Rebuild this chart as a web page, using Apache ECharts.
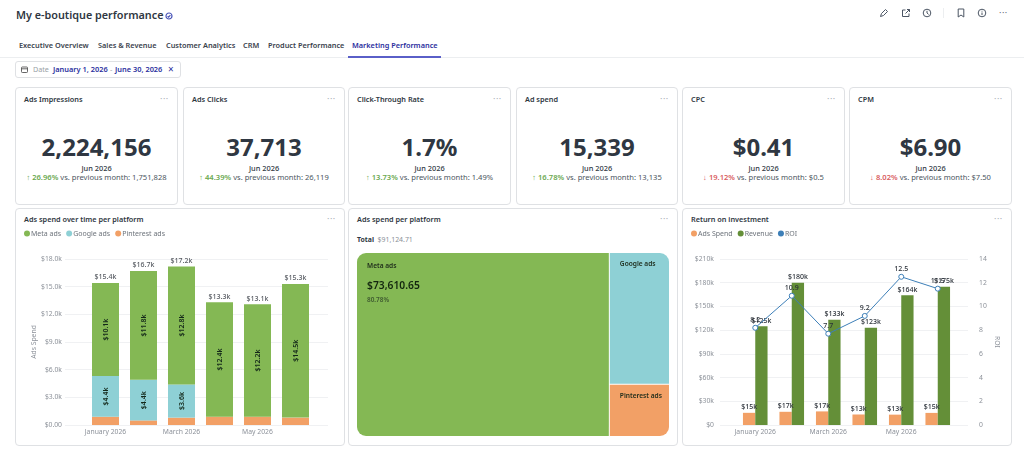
<!DOCTYPE html>
<html><head><meta charset="utf-8">
<script src="https://cdn.jsdelivr.net/npm/echarts@6/dist/echarts.min.js"></script>
<style>
html,body{margin:0;padding:0;background:#fff;width:1024px;height:465px;overflow:hidden;font-family:"Noto Sans",sans-serif;color:#2f3742}
.abs{position:absolute;white-space:nowrap}
.card{position:absolute;box-sizing:border-box;background:#fff;border:1px solid #dfe1e4;border-radius:4px}
#chartBox{position:absolute;left:0;top:0;width:1024px;height:465px}
.ct{font-size:7.3px;font-weight:600;color:#2f3742}
.dots{color:#aeb2b8;font-size:9px;letter-spacing:.5px}
</style></head><body>
<div id="uiBox"></div><div id="chartBox"></div>
<script>
const months=['January 2026','February 2026','March 2026','April 2026','May 2026','June 2026'];
const metaSpend=[10.1,11.8,12.8,12.4,12.2,14.5];
const googleSpend=[4.4,4.4,3.6,0,0,0];
const pinterestSpend=[0.9,0.5,0.8,0.9,0.9,0.8];
const totalSpend=[15.4,16.7,17.2,13.3,13.1,15.3];
const adsSpend=[15.4,16.7,17.2,13.3,13.1,15.3];
const revenue=[125,180,133,123,164,175];
const roi=[8.2,10.9,7.7,9.2,12.5,11.5];
const platformNames=['Meta ads','Google ads','Pinterest ads'];
const platformTotals=[73610.65,12530,4984.06];
const tabs=['Executive Overview','Sales & Revenue','Customer Analytics','CRM','Product Performance','Marketing Performance'];
const tabX=[19,98,166,243,268,352];
const kpiTitles=['Ads Impressions','Ads Clicks','Click-Through Rate','Ad spend','CPC','CPM'];
const kpiValues=['2,224,156','37,713','1.7%','15,339','$0.41','$6.90'];
const kpiDeltas=['26.96%','44.39%','13.73%','16.78%','19.12%','8.02%'];
const kpiPrev=['1,751,828','26,119','1.49%','13,135','$0.5','$7.50'];
const kpiUp=[true,true,true,true,false,false];
const kpiBoxes=[[15,163],[183,162],[348,163],[516,162],[682,163],[849,163]];

const uiEl=document.getElementById('uiBox');
function add(html){uiEl.insertAdjacentHTML('beforeend',html);}
function icon(x,y,inner){add(`<svg class="abs" style="left:${x}px;top:${y}px" width="10" height="10" viewBox="0 0 10 10" fill="none" stroke="#4b5563" stroke-width="1">${inner}</svg>`);}
add(`<div class="abs" style="left:16px;top:6px;font-size:10.8px;font-weight:600;line-height:18px;color:#2f3742">My e-boutique performance</div>`);
add(`<svg class="abs" style="left:165px;top:12px" width="8" height="8" viewBox="0 0 8 8" fill="none" stroke="#4a55b8" stroke-width="1.2"><circle cx="4" cy="4" r="3"/><path d="M2.6 4.1l1 1 1.8-2"/></svg>`);
tabs.forEach((t,i)=>add(`<div class="abs" style="left:${tabX[i]}px;top:39px;font-size:7.35px;font-weight:600;line-height:12px;color:${i==5?'#2b2f9e':'#3a424d'}">${t.replace('&','&amp;')}</div>`));
add(`<div class="abs" style="left:0;top:57px;width:1024px;height:1px;background:#eceef0"></div>`);
add(`<div class="abs" style="left:348px;top:56px;width:93px;height:2px;background:#5a5fc8"></div>`);
add(`<div class="card" style="left:15px;top:61px;width:166px;height:17px;border-radius:3px"></div>`);
add(`<svg class="abs" style="left:21px;top:66px" width="7" height="7" viewBox="0 0 7 7" fill="none" stroke="#555" stroke-width=".9"><rect x=".5" y="1" width="6" height="5.5" rx=".8"/><path d="M.5 2.8h6"/></svg>`);
add(`<div class="abs" style="left:33px;top:63px;font-size:7.2px;line-height:13px;color:#9a9fa6">Date</div>`);
add(`<div class="abs" style="left:53px;top:63px;font-size:7.4px;font-weight:600;line-height:13px;color:#2b2f9e">January 1, 2026</div>`);
add(`<div class="abs" style="left:110px;top:63px;font-size:7.4px;line-height:13px;color:#9a9fa6">-</div>`);
add(`<div class="abs" style="left:115px;top:63px;font-size:7.4px;font-weight:600;line-height:13px;color:#2b2f9e">June 30, 2026</div>`);
add(`<div class="abs" style="left:168px;top:62px;font-size:10px;line-height:14px;color:#2b2f9e">×</div>`);
icon(879,8,'<path d="M1.5 8.5l1-3 4-4 2 2-4 4z"/>');
icon(901,8,'<path d="M8 5.5v3H1.5V2h3"/><path d="M4.5 5.5L8.5 1.5M6 1.5h2.5V4"/>');
icon(922,8,'<circle cx="5" cy="5" r="3.8"/><path d="M5 2.8V5l1.6 1.4"/>');
add(`<div class="abs" style="left:943px;top:8px;width:1px;height:10px;background:#eceef0"></div>`);
icon(956,8,'<path d="M2.2 1h5.6v8L5 7 2.2 9z"/>');
icon(977,8,'<circle cx="5" cy="5" r="3.8"/><path d="M5 4.5v2.6M5 2.8v.8"/>');
add(`<div class="abs dots" style="left:999px;top:6px;color:#6b7280">···</div>`);
kpiTitles.forEach((t,i)=>{
 const [x,w]=kpiBoxes[i];
 add(`<div class="card" style="left:${x}px;top:87px;width:${w}px;height:118px"></div>`);
 add(`<div class="abs ct" style="left:${x+9}px;top:93px;line-height:12px">${t}</div>`);
 add(`<div class="abs dots" style="left:${x+w-18}px;top:93px;line-height:12px">···</div>`);
 add(`<div class="abs" style="left:${x}px;width:${w}px;top:130px;text-align:center;font-size:24px;font-weight:700;line-height:34px;color:#2f3742">${kpiValues[i]}</div>`);
 add(`<div class="abs" style="left:${x}px;width:${w}px;top:162px;text-align:center;font-size:7.4px;font-weight:500;line-height:12px;color:#2f3742">Jun 2026</div>`);
 const c=kpiUp[i]?'#6aa84f':'#d9605f';
 add(`<div class="abs" style="left:${x}px;width:${w}px;top:171px;text-align:center;font-size:7.6px;line-height:12px;color:#4b5560"><span style="color:${c}">${kpiUp[i]?'↑':'↓'} <b style="font-weight:600">${kpiDeltas[i]}</b></span> vs. previous month: ${kpiPrev[i]}</div>`);
});
[[15,330,'Ads spend over time per platform'],[348,330,'Ads spend per platform'],[682,330,'Return on investment']].forEach(([x,w,t])=>{
 add(`<div class="card" style="left:${x}px;top:208px;width:${w}px;height:238px"></div>`);
 add(`<div class="abs ct" style="left:${x+9}px;top:213px;line-height:12px">${t}</div>`);
 add(`<div class="abs dots" style="left:${x+w-18}px;top:213px;line-height:12px">···</div>`);
});
add(`<div class="abs" style="left:357px;top:234px;font-size:6.9px;line-height:12px;color:#8a9098"><b style="color:#2f3742;font-weight:700">Total</b>&nbsp; $91,124.71</div>`);

const GREEN='#84b854',TEAL='#8ed0d5',ORANGE='#f2a066',DGREEN='#648f38',BLUE='#3d7fb8';
const gray='#8d929a',gridCol='#f0f1f3',FF='"Noto Sans",sans-serif';
const money1=v=>v===0?'$0.00':'$'+v.toFixed(1)+'k';
const lab=()=>({show:true,position:'inside',rotate:90,fontSize:7,fontWeight:600,fontFamily:FF,color:'#14281a',
  formatter:o=>o.value>1.5?'$'+o.value.toFixed(1)+'k':''});
const topLabel=(fmt)=>({show:true,position:'top',distance:2,fontSize:7,fontWeight:500,fontFamily:FF,color:'#2a3038',formatter:fmt});
const legendBase={orient:'horizontal',icon:'circle',itemWidth:6,itemHeight:6,itemGap:5,selectedMode:false,
  textStyle:{fontSize:7,color:'#6d737b',fontFamily:FF,padding:[0,0,0,-4]}};
const yAxisBase={type:'value',min:0,axisLine:{show:false},axisTick:{show:false},
  axisLabel:{fontSize:6.8,color:gray,fontFamily:FF,margin:3},splitLine:{lineStyle:{color:gridCol,width:1}}};
const hiddenY=(g,max)=>({type:'value',gridIndex:g,min:0,max,show:false});
const hiddenX=g=>({type:'category',gridIndex:g,show:false,data:months});
const visX=g=>({type:'category',gridIndex:g,data:months,axisLine:{show:false},axisTick:{show:false},
  axisLabel:{interval:1,fontSize:6.8,color:gray,fontFamily:FF,margin:4,showMinLabel:true},splitLine:{show:false}});

const option={animation:false,
 legend:[
  {...legendBase,left:19,top:225,data:platformNames},
  {...legendBase,left:686,top:225,data:['Ads Spend','Revenue',{name:'ROI',itemStyle:{color:BLUE,borderWidth:0}}]}
 ],
 grid:[
  {left:65,width:263,top:259,height:166},
  {left:86.5,width:228,top:259,height:166},
  {left:720,width:248,top:259,height:166},
  {left:737,width:219,top:259,height:166}
 ],
 xAxis:[hiddenX(0),visX(1),hiddenX(2),visX(3)],
 yAxis:[
  {...yAxisBase,gridIndex:0,max:18,interval:3,axisLabel:{...yAxisBase.axisLabel,formatter:money1},
   name:'Ads Spend',nameLocation:'middle',nameGap:25,nameTextStyle:{fontSize:6.8,color:gray,fontFamily:FF}},
  hiddenY(1,18),
  {...yAxisBase,gridIndex:2,max:210,interval:30,axisLabel:{...yAxisBase.axisLabel,margin:6,formatter:v=>'$'+v+(v?'k':'')}},
  {type:'value',gridIndex:2,position:'right',min:0,max:14,interval:2,axisLine:{show:false},axisTick:{show:false},splitLine:{show:false},
   axisLabel:{fontSize:6.8,color:gray,fontFamily:FF,margin:11},
   name:'ROI',nameLocation:'middle',nameGap:25,nameRotate:-90,nameTextStyle:{fontSize:6.8,color:gray,fontFamily:FF}},
  hiddenY(3,210),hiddenY(3,14)
 ],
 series:[
  {name:'Pinterest ads',type:'bar',stack:'a',xAxisIndex:1,yAxisIndex:1,barWidth:27,data:pinterestSpend,itemStyle:{color:ORANGE}},
  {name:'Google ads',type:'bar',stack:'a',xAxisIndex:1,yAxisIndex:1,barWidth:27,data:googleSpend,itemStyle:{color:TEAL},label:lab()},
  {name:'Meta ads',type:'bar',stack:'a',xAxisIndex:1,yAxisIndex:1,barWidth:27,data:metaSpend,itemStyle:{color:GREEN},label:lab()},
  {name:'Total',type:'scatter',xAxisIndex:1,yAxisIndex:1,symbolSize:0,data:totalSpend,label:topLabel(o=>'$'+o.value.toFixed(1)+'k')},
  {name:'Ads Spend',type:'bar',xAxisIndex:3,yAxisIndex:4,barWidth:12.3,barGap:0,data:adsSpend,itemStyle:{color:ORANGE},
   label:topLabel(o=>'$'+Math.round(o.value)+'k')},
  {name:'Revenue',type:'bar',xAxisIndex:3,yAxisIndex:4,barWidth:12.3,barGap:0,data:revenue,itemStyle:{color:DGREEN},
   label:topLabel(o=>'$'+o.value+'k')},
  {name:'ROI',type:'line',xAxisIndex:3,yAxisIndex:5,z:5,data:roi,symbol:'circle',symbolSize:5,showSymbol:true,
   lineStyle:{color:BLUE,width:1},itemStyle:{color:'#fff',borderColor:BLUE,borderWidth:1},
   label:{...topLabel(o=>o.value.toFixed(1)),distance:1}},
  {name:'Spend per platform',type:'treemap',left:357,top:253,width:312,height:183,roam:false,nodeClick:false,
   breadcrumb:{show:false},squareRatio:1.6,
   itemStyle:{gapWidth:1,borderWidth:0,borderColor:'#fff'},
   label:{show:true,position:'insideTopLeft',padding:[8,0,0,10],fontFamily:FF,color:'#1d2b1a',fontSize:6.6,fontWeight:600,formatter:'{b}'},
   upperLabel:{show:false},
   data:[
    {name:platformNames[0],value:platformTotals[0],itemStyle:{color:GREEN,borderRadius:[9,0,0,9]},
     label:{formatter:p=>`{n|${p.name}}\n{s| }\n{v|$${p.value.toLocaleString('en-US',{minimumFractionDigits:2})}}\n{p|${(p.value/91124.71*100).toFixed(2)}%}`,
      rich:{n:{fontSize:6.6,fontWeight:600,color:'#1d2b1a',lineHeight:10,fontFamily:FF},
            s:{fontSize:1,lineHeight:5},
            v:{fontSize:10.3,fontWeight:600,color:'#13260f',lineHeight:21,fontFamily:FF},
            p:{fontSize:6.4,color:'#3f5a30',lineHeight:6,fontFamily:FF}}}},
    {name:platformNames[1],value:platformTotals[1],itemStyle:{color:TEAL,borderRadius:[0,9,0,0]}},
    {name:platformNames[2],value:platformTotals[2],itemStyle:{color:ORANGE,borderRadius:[0,0,9,0]}}
   ]}
 ]};
const chartInst=echarts.init(document.getElementById('chartBox'),null,{renderer:'canvas'});
chartInst.setOption(option);
</script></body></html>
